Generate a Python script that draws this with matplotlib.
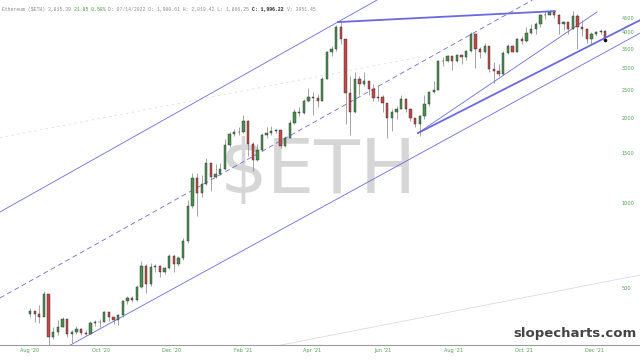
import numpy as np
import matplotlib
matplotlib.use('Agg')
import matplotlib.pyplot as plt
import matplotlib.dates as mdates

# 4-day candles, Aug 20 2020 .. Dec 29 2021
start = np.datetime64('2020-08-20')
close = [415, 405, 395, 475, 335, 350, 365, 390, 345, 350,
         358, 348, 345, 375, 378, 380, 410, 395, 385, 400,
         450, 460, 455, 505, 600, 515, 595, 600, 570, 590,
         650, 610, 640, 735, 975, 1220, 1080, 1170, 1380, 1230,
         1260, 1320, 1600, 1750, 1780, 1780, 1950, 1620, 1420, 1540,
         1730, 1770, 1800, 1810, 1590, 1700, 1920, 2100, 2070, 2300,
         2360, 2350, 2300, 2750, 3400, 3500, 4170, 3800, 2450, 2100,
         2730, 2630, 2690, 2520, 2350, 2370, 2250, 1990, 2100, 2150,
         2320, 2140, 1995, 1900, 2030, 2230, 2460, 2510, 3160, 3160,
         3310, 3180, 3320, 3270, 3430, 3940, 3500, 3400, 3580, 2970,
         2930, 2850, 3390, 3590, 3420, 3790, 3740, 3970, 4130, 4290,
         4600, 4610, 4720, 4630, 4290, 4340, 4100, 4590, 4200, 4110,
         3780, 3960, 4010, 4050, 3815]
high = [425, 415, 435, 490, 445, 365, 385, 395, 380, 355,
        368, 362, 355, 382, 385, 390, 415, 412, 395, 405,
        455, 470, 470, 512, 622, 610, 615, 610, 605, 595,
        660, 660, 650, 750, 1020, 1270, 1280, 1250, 1440, 1380,
        1370, 1380, 1680, 1780, 1830, 1850, 2040, 1960, 1640, 1620,
        1760, 1850, 1870, 1830, 1810, 1720, 1960, 2140, 2180, 2320,
        2550, 2460, 2420, 2780, 3450, 3590, 4250, 4360, 3600, 2800,
        2900, 2800, 2900, 2650, 2620, 2600, 2400, 2260, 2150, 2200,
        2400, 2350, 2150, 2000, 2050, 2400, 2480, 2700, 3200, 3270,
        3330, 3300, 3370, 3300, 3480, 4000, 3980, 3550, 3680, 3580,
        3150, 3100, 3450, 3650, 3600, 3820, 3900, 4180, 4280, 4350,
        4650, 4780, 4800, 4770, 4650, 4400, 4300, 4750, 4650, 4420,
        4150, 4000, 4050, 4120, 4080]
low = [395, 380, 375, 425, 310, 330, 340, 365, 335, 320,
       345, 342, 338, 345, 368, 365, 378, 382, 372, 370,
       395, 440, 445, 450, 500, 480, 510, 570, 545, 560,
       585, 570, 600, 630, 720, 960, 900, 1050, 1160, 1100,
       1220, 1250, 1310, 1570, 1720, 1730, 1770, 1470, 1300, 1410,
       1520, 1700, 1730, 1760, 1560, 1580, 1690, 1900, 2030, 2060,
       2280, 2050, 2180, 2290, 2740, 3300, 3450, 3650, 1900, 1730,
       2080, 2400, 2580, 2400, 2300, 2300, 2100, 1700, 1800, 1980,
       2140, 2100, 1950, 1850, 1720, 1980, 2200, 2450, 2500, 3050,
       3150, 2950, 3150, 3100, 3200, 3420, 3000, 3250, 3390, 2900,
       2650, 2800, 2840, 3350, 3400, 3420, 3650, 3700, 3950, 3950,
       4200, 4450, 4600, 4500, 3950, 4080, 3950, 4100, 3500, 3900,
       3680, 3640, 3900, 3950, 3750]

ytick_vals = [500, 1000, 1500, 2000, 2500, 3000, 3500, 4000, 4500]
xtick_dates = ['2020-08-20', '2020-10-20', '2020-12-20', '2021-02-20', '2021-04-20',
               '2021-06-20', '2021-08-20', '2021-10-20', '2021-12-20']
xtick_labels = ["Aug '20", "Oct '20", "Dec '20", "Feb '21", "Apr '21",
                "Jun '21", "Aug '21", "Oct '21", "Dec '21"]

# drawn trend lines: (days from start, price) end points
chan_top = ([-26, 299], [928, 5206])
chan_mid = ([-26, 433], [461, 5206])
chan_bot = ([34.5, 526], [314, 3982])
peak_line = ([265.5, 452.6], [4354, 4760])
trend_thick = ([334.5, 526], [1765, 4424])
trend_thin = ([334.5, 488.8], [1765, 4725])
faint_line = ([215.5, 526], [314, 556])
faint_dots = ([-26, 340], [1700, 3300])

header = [('Ethereum ($ETH) 3,815.39 ', '#888888', 'normal'),
          ('21.85 0.58% ', '#3aa03a', 'normal'),
          ('D: 07/14/2022 O: 1,980.61 H: 2,019.42 L: 1,866.25 ', '#888888', 'normal'),
          ('C: 1,996.22 ', '#222222', 'bold'),
          ('V: 3951.45', '#888888', 'normal')]

BLUE = '#6a6ae0'
GREEN_TXT = '#4f9f4f'

fig = plt.figure(figsize=(6.4, 3.61), dpi=100)
ax = fig.add_axes([0, 16 / 361, 1, 345 / 361])
ax.set_yscale('log')

t0 = mdates.date2num(start)
x = t0 + 4 * np.arange(len(close))
c = np.array(close, dtype=float)
o = np.concatenate([[405.0], c[:-1]])
h = np.array(high, dtype=float)
l = np.array(low, dtype=float)

# watermark
ax.text(0.497, 0.50, '$ETH', transform=ax.transAxes, ha='center', va='center',
        fontsize=54, color='#d6d6d6', family='DejaVu Sans', zorder=0)

# trend lines
def tl(seg, **kw):
    ax.plot(t0 + np.array(seg[0]), seg[1], **kw)

tl(faint_dots, color='#dddddd', lw=0.6, ls=(0, (3, 4)), zorder=1)
tl(faint_line, color='#ddd6f0', lw=0.6, zorder=1)
tl(chan_top, color=BLUE, lw=0.6, zorder=1)
tl(chan_mid, color=BLUE, lw=0.6, ls=(0, (6, 4)), zorder=1)
tl(chan_bot, color=BLUE, lw=0.6, zorder=1)
tl(trend_thin, color=BLUE, lw=0.6, zorder=1)
tl(peak_line, color=BLUE, lw=1.3, zorder=3)
tl(trend_thick, color=BLUE, lw=1.3, zorder=3)

# candles
up = c >= o
ax.vlines(x, l, h, color='#808080', lw=0.5, zorder=2)
ax.bar(x[up], c[up] - o[up], bottom=o[up], width=2.0, color='#4a9150',
       edgecolor='#2a2a2a', linewidth=0.3, zorder=2)
ax.bar(x[~up], o[~up] - c[~up], bottom=c[~up], width=2.0, color='#c44848',
       edgecolor='#2a2a2a', linewidth=0.3, zorder=2)
ax.plot(x[-1], c[-1] * 0.985, marker='o', ms=1.6, color='#111111', zorder=4)

ax.set_xlim(t0 - 25.9, t0 + 525.9)
ax.set_ylim(314.5, 5211)

ax.yaxis.set_ticks_position('right')
ax.set_yticks(ytick_vals)
ax.set_yticklabels([str(v) for v in ytick_vals])
ax.yaxis.set_minor_locator(matplotlib.ticker.NullLocator())
ax.tick_params(axis='y', length=0, pad=-13, labelsize=3.6, labelcolor=GREEN_TXT)

ax.set_xticks([mdates.date2num(np.datetime64(d)) for d in xtick_dates])
ax.set_xticklabels(xtick_labels)
ax.xaxis.set_minor_locator(matplotlib.ticker.NullLocator())
ax.tick_params(axis='x', length=0, pad=2.5, labelsize=3.6, labelcolor=GREEN_TXT)

for s in ['top', 'left', 'right']:
    ax.spines[s].set_visible(False)
ax.spines['bottom'].set_color('#9a9a9a')
ax.spines['bottom'].set_linewidth(0.8)

# header line
fs = 3.45
off = 0
for txt, col, wt in header:
    ax.annotate(txt, xy=(0, 1), xycoords='axes fraction', xytext=(1.5 + off, -7),
                textcoords='offset points', ha='left', va='center', fontsize=fs,
                family='Liberation Mono', color=col, fontweight=wt)
    off += len(txt) * 0.6 * fs

ax.text(0.994, 0.015, 'slopecharts.com', transform=ax.transAxes, ha='right', va='bottom',
        fontsize=9.5, fontweight='bold', color='#444444')

fig.savefig('out.png', dpi=100)
